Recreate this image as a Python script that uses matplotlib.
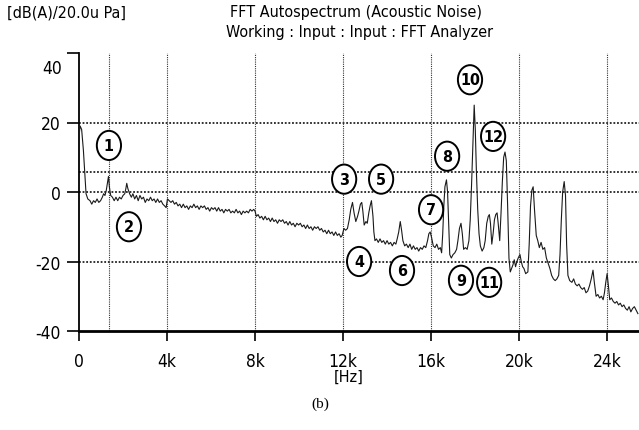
import matplotlib
matplotlib.use("Agg")
import matplotlib.pyplot as plt
from matplotlib import font_manager
from matplotlib.patches import Ellipse
from matplotlib.ticker import FuncFormatter

# narrow sans like the analyser screen; fall back to condensed DejaVu
font_names = {f.name for f in font_manager.fontManager.ttflist}
if 'Liberation Sans Narrow' in font_names:
    plt.rcParams['font.family'] = ['Liberation Sans Narrow', 'DejaVu Sans']
    NARROW = True
else:
    plt.rcParams['font.family'] = ['DejaVu Sans']
    plt.rcParams['font.stretch'] = 'condensed'
    NARROW = any(f.name == 'DejaVu Sans' and f.stretch == 'condensed'
                 for f in font_manager.fontManager.ttflist)
plt.rcParams['axes.unicode_minus'] = False
FS = 11.5 if NARROW else 10

# Spectrum (Hz, dB(A))
freq_hz = [
    0, 50, 120, 200, 270, 320, 400, 500, 580, 660, 740, 820, 900, 980, 1060, 1120,
    1180, 1240, 1300, 1340, 1380, 1440, 1520, 1600, 1680, 1760, 1840, 1920, 2000, 2080,
    2130, 2170, 2220, 2300, 2380, 2450, 2530, 2610, 2690, 2770, 2850, 2930, 3010, 3090,
    3170, 3250, 3330, 3410, 3490, 3570, 3650, 3730, 3810, 3890, 3960, 4020, 4100, 4180,
    4260, 4340, 4420, 4500, 4580, 4660, 4740, 4820, 4900, 4980, 5060, 5140, 5220, 5300,
    5380, 5460, 5540, 5620, 5700, 5780, 5860, 5940, 6020, 6100, 6180, 6260, 6340, 6420,
    6500, 6580, 6660, 6740, 6820, 6900, 6980, 7060, 7140, 7220, 7300, 7380, 7460, 7540,
    7620, 7700, 7780, 7860, 7940, 8000, 8060, 8140, 8220, 8300, 8380, 8460, 8540, 8620,
    8700, 8780, 8860, 8940, 9020, 9100, 9180, 9260, 9340, 9420, 9500, 9580, 9660, 9740,
    9820, 9900, 9980, 10060, 10140, 10220, 10300, 10380, 10460, 10540, 10620, 10700, 10780, 10860,
    10940, 11020, 11100, 11180, 11260, 11340, 11420, 11500, 11580, 11660, 11740, 11820, 11900, 11960,
    12040, 12120, 12200, 12280, 12350, 12430, 12500, 12580, 12660, 12720, 12790, 12850, 12900, 12960,
    13040, 13100, 13170, 13230, 13290, 13360, 13400, 13450, 13520, 13600, 13680, 13760, 13840, 13920,
    14000, 14080, 14160, 14240, 14320, 14400, 14460, 14530, 14600, 14660, 14720, 14800, 14880, 14960,
    15040, 15120, 15200, 15280, 15360, 15440, 15520, 15600, 15680, 15760, 15840, 15900, 15960, 16020,
    16100, 16180, 16260, 16340, 16420, 16480, 16530, 16580, 16630, 16700, 16750, 16800, 16850, 16920,
    17000, 17080, 17160, 17220, 17290, 17360, 17420, 17480, 17560, 17640, 17720, 17780, 17840, 17900,
    17960, 18010, 18060, 18120, 18180, 18240, 18320, 18400, 18460, 18530, 18600, 18650, 18700, 18760,
    18820, 18880, 18940, 19000, 19050, 19120, 19180, 19240, 19300, 19360, 19420, 19480, 19540, 19600,
    19660, 19720, 19780, 19840, 19900, 19960, 20040, 20100, 20160, 20220, 20300, 20400, 20460, 20520,
    20580, 20640, 20700, 20780, 20850, 20920, 21000, 21080, 21160, 21240, 21320, 21400, 21480, 21560,
    21640, 21720, 21800, 21860, 21920, 21980, 22050, 22110, 22160, 22220, 22300, 22400, 22480, 22560,
    22640, 22720, 22800, 22880, 22960, 23040, 23120, 23200, 23280, 23360, 23420, 23500, 23580, 23660,
    23740, 23820, 23880, 23940, 24000, 24060, 24120, 24200, 24280, 24360, 24440, 24520, 24600, 24680,
    24760, 24840, 24920, 25000, 25080, 25160, 25240, 25320, 25400,
]
level_db = [
    16, 19, 18, 12, 4.5, -0.5, -2, -2.5, -3.5, -2.5, -3, -2, -3, -2.5, -1.5, -0.5,
    -1, 0.5, 3, 4.5, 1.5, -1, -1.5, -2.5, -1.5, -2.5, -1.5, -2, -1, -0.5,
    1, 2.5, 1, -0.5, -1.5, -0.5, -2, -1, -2.5, -1, -2, -1.5, -3, -2,
    -2.5, -1.5, -2.5, -2, -3, -2, -3, -2.5, -3.5, -4, -4.5, -2, -2.5, -3,
    -2.5, -3.5, -3, -4, -3.5, -4.5, -3.5, -4.5, -4, -5, -4, -4.5, -3.5, -4.5,
    -4, -5, -4, -4.5, -4, -5, -4.5, -5.5, -4.5, -5, -4.5, -5.5, -4.5, -5.5,
    -5, -6, -5, -5.5, -5, -6, -5.5, -6, -5, -6, -5.5, -6.5, -5.5, -6,
    -5.5, -6, -5, -5.5, -5, -5.5, -7, -6.5, -7.5, -7, -8, -7, -8, -7.5,
    -8.5, -7.5, -8.5, -8, -9, -8, -8.5, -8, -9, -8.5, -9.5, -8.5, -9.5, -9,
    -10, -9, -9.5, -9, -10, -9.5, -10.5, -9.5, -10.5, -10, -11, -10, -10.5, -10,
    -11, -10.5, -11.5, -11, -12, -11, -12, -11.5, -12.5, -11.5, -12.5, -12, -13, -12.5,
    -10.5, -11, -10.5, -8, -5, -3, -6, -8.5, -7, -5.5, -3.5, -3, -5.5, -9.5,
    -8.5, -9, -6, -4, -2.5, -7, -11.5, -14, -13.5, -14.5, -13.5, -14.5, -14, -15,
    -14, -15, -14.5, -15.5, -14.5, -15, -13.5, -11.5, -8.5, -11, -14, -15.5, -15, -16,
    -15, -16.5, -15.5, -16.5, -16, -17, -16, -16.5, -15.5, -16, -14, -12, -11.5, -13,
    -15.5, -16, -15, -16.5, -16, -17.5, -12, -4, 1.5, 3.5, 0, -9, -18, -19,
    -18, -17.5, -16.5, -14, -10.5, -9, -12, -16.5, -16, -16.5, -14, -8, 2, 14,
    25, 18, 6, -5, -12, -15.5, -17, -16, -14, -9, -7, -6.5, -9, -15,
    -12, -8, -6.5, -6, -9, -14, -6, 3, 10, 11.5, 9, -4, -19, -23,
    -22, -21, -19.5, -21.5, -20, -19, -18, -20, -21.5, -22, -23.5, -23, -15, -4,
    0.5, 1.5, -5, -12.5, -14, -16, -14.5, -16.5, -16, -19, -20.5, -22, -24, -25,
    -25.5, -25, -24, -18, -8, 0, 3, -1, -15, -24, -25.5, -26, -25, -26.5,
    -27, -26.5, -27.5, -28, -27.5, -29, -28.5, -27, -25, -22.5, -26, -30, -29.5, -30.5,
    -30, -31, -29, -26, -23.5, -27, -31, -30.5, -31.5, -32, -31.5, -32.5, -32, -33,
    -32.5, -33.5, -34, -33, -34.5, -33.5, -33, -34, -35,
]

# circled peak labels: number, frequency (Hz), level (dB)
marker_nums = ['1', '2', '3', '4', '5', '6', '7', '8', '9', '10', '11', '12']
marker_hz = [1360, 2270, 12050, 12730, 13730, 14680, 16000, 16730, 17360, 17770, 18640, 18820]
marker_db = [13.4, -10, 3.7, -20, 3.7, -22.6, -5.1, 10.3, -25.4, 32.3, -26, 16]

x_ticks = [0, 4000, 8000, 12000, 16000, 20000, 24000]
y_ticks = [-40, -20, 0, 20, 40]
ref_lines_db = [20, 5.7, 0, -20]
cursor_hz = 1360

fig = plt.figure(figsize=(6.39, 4.31), dpi=100)
ax = fig.add_axes([79 / 639, (431 - 332) / 431, 560 / 639, (332 - 54) / 431])

ax.plot(freq_hz, level_db, color='#1a1a1a', lw=0.8, zorder=3)

for y in ref_lines_db:
    ax.axhline(y, color='#222222', lw=1.3, ls=(0, (1, 1)), zorder=2)
for x in x_ticks[1:] + [cursor_hz]:
    ax.axvline(x, color='#333333', lw=0.8, ls=(0, (1, 1)), zorder=2)

for num, x, y in zip(marker_nums, marker_hz, marker_db):
    ax.add_patch(Ellipse((x, y), width=1100, height=8.4, facecolor='white',
                         edgecolor='black', lw=1.4, zorder=5))
    ax.text(x, y, num, ha='center', va='center', fontsize=FS,
            fontweight='bold', zorder=6)

ax.set_xlim(0, 25450)
ax.set_ylim(-40, 40)
ax.set_xticks(x_ticks)
ax.xaxis.set_major_formatter(FuncFormatter(lambda v, p: '0' if v == 0 else f'{int(v / 1000)}k'))
ax.set_yticks(y_ticks)
ax.set_yticklabels(['-40', '-20', '0', '20', ''])

for side in ['top', 'right']:
    ax.spines[side].set_visible(False)
ax.spines['left'].set_linewidth(1.3)
ax.spines['bottom'].set_linewidth(2.0)
ax.tick_params(axis='x', length=7, width=1.2, pad=8, labelsize=FS + 1)
ax.tick_params(axis='y', length=9, width=1.2, pad=4, labelsize=FS + 1)

fig.text(62 / 639, 1 - 69 / 431, '40', ha='right', va='center', fontsize=FS + 1)
fig.text(7 / 639, 1 - 13 / 431, '[dB(A)/20.0u Pa]', ha='left', va='center', fontsize=FS)
fig.text(356 / 639, 1 - 13 / 431, 'FFT Autospectrum (Acoustic Noise)',
         ha='center', va='center', fontsize=FS)
fig.text(360 / 639, 1 - 33 / 431, 'Working : Input : Input : FFT Analyzer',
         ha='center', va='center', fontsize=FS)
fig.text(349 / 639, 1 - 377 / 431, '[Hz]', ha='center', va='center', fontsize=FS)
fig.text(320 / 639, 1 - 404 / 431, '(b)', ha='center', va='center', fontsize=11,
         family='Liberation Serif')

fig.savefig('out.png', dpi=100)
